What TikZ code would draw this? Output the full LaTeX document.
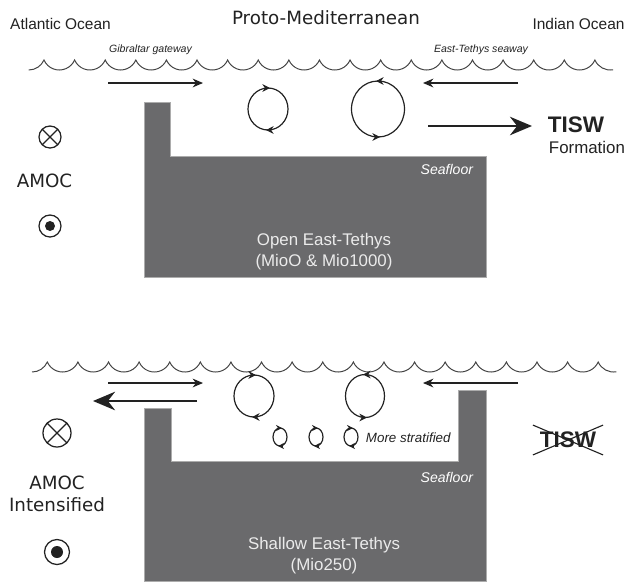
\documentclass[tikz,border=0pt]{standalone}
\usepackage{fontspec}
\setmainfont{Liberation Sans}
\newfontfamily\dejavu{DejaVu Sans}
\usetikzlibrary{arrows.meta}
\definecolor{seabed}{HTML}{6A6A6C}
\definecolor{ink}{HTML}{222222}
\tikzset{wave/.style={draw=ink!85, line width=0.7pt},
  flow/.style={-{Stealth[length=2.6mm,width=2.2mm]}, line width=0.9pt, draw=ink},
  bigflow/.style={-{Stealth[length=5.5mm,width=4.6mm]}, line width=2pt, draw=ink}}
% sea surface: one scallop every 30.6px, starting at x=#1 with cusps at y=#2
\newcommand{\seawave}[2]{%
  \draw[wave] (#1,#2+10) arc[start angle=90,end angle=23.6,radius=16.7]
    \foreach \k in {1,...,18}{arc[start angle=156.4,end angle=23.6,radius=16.7]}
    arc[start angle=156.4,end angle=80,radius=16.7];}
% eddy at (#1,#2), radii #3/#4, #5=1 turns clockwise, -1 anticlockwise, #6 tip size
\newcommand{\eddy}[6]{%
  \draw[eddyline] (#1,#2) ellipse[x radius=#3, y radius=#4];
  \draw[eddyline, -{Stealth[length=#6,width=#6]}] ({#1-2*#5},{#2-#4}) -- ({#1+2*#5},{#2-#4});
  \draw[eddyline, -{Stealth[length=#6,width=#6]}] ({#1+2*#5},{#2+#4}) -- ({#1-2*#5},{#2+#4});}

\begin{document}
\begin{tikzpicture}[x=0.025cm, y=-0.025cm,
  basin/.style={fill=seabed, draw=gray!65, line width=0.5pt},
  eddyline/.style={line width=0.85pt, draw=ink},
  sym/.style={line width=0.9pt, draw=ink},
  ocean/.style={font=\fontsize{11}{13}\selectfont, text=ink},
  gate/.style={font=\itshape\fontsize{7.5}{9}\selectfont, text=ink},
  floor/.style={font=\itshape\fontsize{10}{12}\selectfont, text=white},
  basinlbl/.style={font=\fontsize{12}{15}\selectfont, text=white!92!black, align=center},
  amoc/.style={font=\dejavu\fontsize{13}{15.6}\selectfont, text=ink, align=center},
  tisw/.style={font=\bfseries\fontsize{16}{19}\selectfont, text=ink},
]
\useasboundingbox (0,0) rectangle (630,581);

% ---------- open East-Tethys ----------
\node[ocean] (atl) at (60.5,24) {Atlantic Ocean};
\node[amoc] (proto) at (326,18) {Proto-Mediterranean};
\node[ocean] (ind) at (578.5,24) {Indian Ocean};
\node[gate] (gib) at (150.5,50) {Gibraltar gateway};
\node[gate] (eth) at (481,50) {East-Tethys seaway};
\seawave{28.7}{60}

\coordinate (gibA) at (108,83); \coordinate (gibB) at (203,83);
\coordinate (ethA) at (518,83); \coordinate (ethB) at (423,83);
\coordinate (outA) at (428,126); \coordinate (outB) at (532,126);
\draw[flow] (gibA) -- (gibB);
\draw[flow] (ethA) -- (ethB);
\draw[bigflow] (outA) -- (outB);
\node[tisw, anchor=west] (tisw) at (543,125) {TISW};
\node[font=\fontsize{12}{14}\selectfont, text=ink, anchor=west] (form) at (544,147) {Formation};

\eddy{268}{109}{20}{21}{1}{1.9mm}
\eddy{378}{109}{26.5}{28}{-1}{1.9mm}

\draw[basin] (144,102) -- (170,102) -- (170,156) -- (486,156) -- (486,277)
  -- (144,277) -- cycle;
\node[floor, anchor=east] (sf1) at (478,169) {Seafloor};
\node[basinlbl] (open) at (324,251.5) {Open East-Tethys\\(MioO \& Mio1000)};

\draw[sym] (50,137) circle[radius=11] (50,137) +(45:11) -- +(225:11)
  (50,137) +(135:11) -- +(315:11);
\node[amoc] (amoc1) at (44.5,181) {AMOC};
\draw[sym] (50,226) circle[radius=11];
\fill[ink] (50,226) circle[radius=5];

% ---------- shallow East-Tethys ----------
\seawave{32}{362}
\coordinate (gibC) at (108,383); \coordinate (gibD) at (203,383);
\coordinate (ethC) at (518,383); \coordinate (ethD) at (423,383);
\coordinate (retA) at (197,401); \coordinate (retB) at (93,401);
\draw[flow] (gibC) -- (gibD);
\draw[flow] (ethC) -- (ethD);
\draw[bigflow] (retA) -- (retB);

\eddy{254}{396}{20}{21}{1}{1.9mm}
\eddy{365}{396}{19.5}{21.5}{-1}{1.9mm}
\foreach \ex in {280,316,351}
  {\eddy{\ex}{437}{7}{9}{1}{1.5mm}}
\node[gate, font=\itshape\fontsize{9.5}{11}\selectfont, anchor=west] (strat) at (361,438) {More stratified};

\draw[basin] (144,408) -- (171,408) -- (171,461) -- (458,461) -- (458,390)
  -- (486,390) -- (486,581) -- (144,581) -- cycle;
\node[floor, anchor=east] (sf2) at (478,477) {Seafloor};
\node[basinlbl] (shallow) at (324,556) {Shallow East-Tethys\\(Mio250)};

\node[tisw] (nontisw) at (568,440) {TISW};
\draw[line width=0.8pt, ink] ([shift={(-2,2)}]nontisw.south west) -- ([shift={(2,-2)}]nontisw.north east)
  ([shift={(-2,-2)}]nontisw.north west) -- ([shift={(2,2)}]nontisw.south east);

\draw[sym] (57,433) circle[radius=14] (57,433) +(45:14) -- +(225:14)
  (57,433) +(135:14) -- +(315:14);
\node[amoc] (amoc2) at (57,494) {AMOC\\Intensified};
\draw[sym] (57,552) circle[radius=12.5];
\fill[ink] (57,552) circle[radius=6];
\end{tikzpicture}
\end{document}
